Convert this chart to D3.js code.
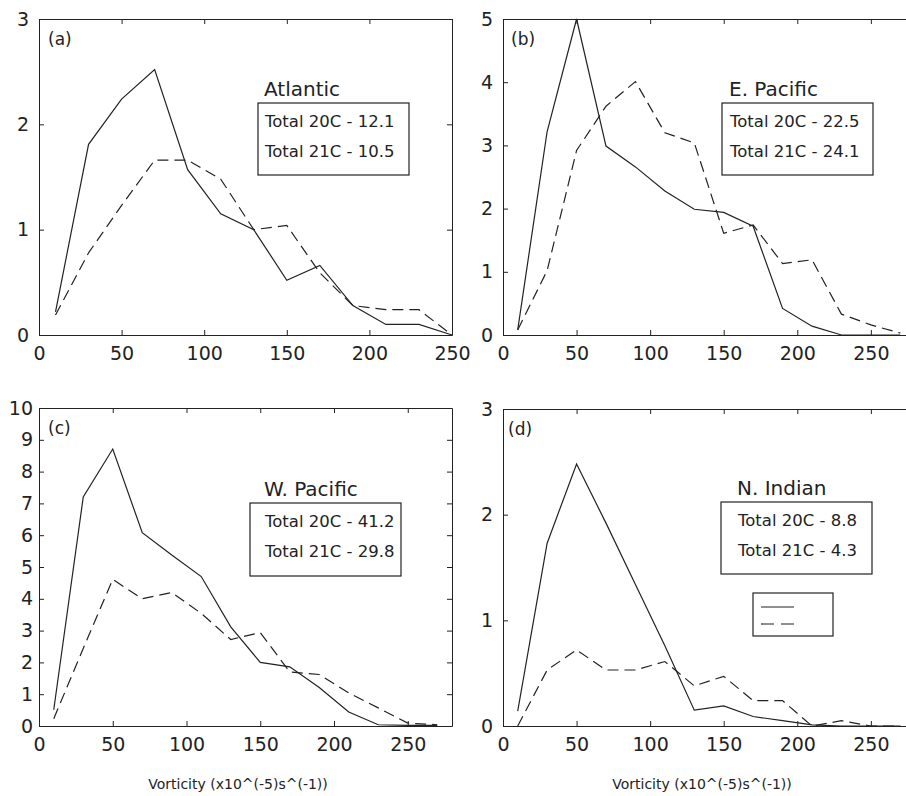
<!DOCTYPE html>
<html>
<head>
<meta charset="utf-8">
<script src="https://cdn.jsdelivr.net/npm/d3@7"></script>
<style>
  body { margin: 0; background: #fff; }
  svg { display: block; font-family: "DejaVu Sans", sans-serif; }
</style>
</head>
<body>
<svg id="chart" width="906" height="796"></svg>
<script>
// vorticity bin centres
const binsA = [10, 30, 50, 70, 90, 110, 130, 150, 170, 190, 210, 230, 250];
const bins = [10, 30, 50, 70, 90, 110, 130, 150, 170, 190, 210, 230, 250, 270];

// (a) Atlantic
const atl20 = [0.22, 1.81, 2.24, 2.52, 1.57, 1.15, 1.0, 0.52, 0.66, 0.28, 0.1, 0.1, 0];
const atl21 = [0.19, 0.78, 1.23, 1.66, 1.66, 1.48, 1.0, 1.04, 0.59, 0.28, 0.24, 0.24, 0];

// (b) E. Pacific
const epac20 = [0.08, 3.22, 5.0, 2.99, 2.66, 2.28, 1.99, 1.94, 1.72, 0.42, 0.14, 0, 0, 0];
const epac21 = [0.08, 1.02, 2.92, 3.62, 4.01, 3.2, 3.04, 1.61, 1.74, 1.13, 1.19, 0.33, 0.16, 0.03];

// (c) W. Pacific
const wpac20 = [0.51, 7.2, 8.71, 6.08, 5.38, 4.7, 3.12, 2.0, 1.86, 1.21, 0.44, 0.04, 0.02, 0.02];
const wpac21 = [0.23, 2.44, 4.61, 4.0, 4.2, 3.54, 2.72, 2.94, 1.7, 1.62, 1.04, 0.57, 0.09, 0.04];

// (d) N. Indian
const nind20 = [0.14, 1.73, 2.48, 1.92, 1.34, 0.76, 0.15, 0.19, 0.09, 0.05, 0.01, 0, 0, 0];
const nind21 = [0, 0.53, 0.72, 0.53, 0.53, 0.61, 0.38, 0.47, 0.24, 0.24, 0, 0.05, 0, 0];

const xTicks = [0, 50, 100, 150, 200, 250];
const xTitle = "Vorticity (x10^(-5)s^(-1))";

const panels = [
  { tag: "(a)", basin: "Atlantic", totals: ["Total 20C - 12.1", "Total 21C - 10.5"],
    x: binsA, s20: atl20, s21: atl21, xMax: 250, yMax: 3,
    left: 39, right: 452, top: 19, bottom: 335, yPad: 10,
    box: [258, 103, 151, 72], textX: 265, tagX: 48 },
  { tag: "(b)", basin: "E. Pacific", totals: ["Total 20C - 22.5", "Total 21C - 24.1"],
    x: bins, s20: epac20, s21: epac21, xMax: 280, yMax: 5,
    left: 503, right: 915, top: 19, bottom: 335, yPad: 10,
    box: [722, 103, 151, 72], textX: 730, tagX: 511 },
  { tag: "(c)", basin: "W. Pacific", totals: ["Total 20C - 41.2", "Total 21C - 29.8"],
    x: bins, s20: wpac20, s21: wpac21, xMax: 280, yMax: 10,
    left: 39, right: 452, top: 408, bottom: 726, yPad: 6,
    box: [250, 503, 151, 73], textX: 265, tagX: 48, xTitleX: 238 },
  { tag: "(d)", basin: "N. Indian", totals: ["Total 20C - 8.8", "Total 21C - 4.3"],
    x: bins, s20: nind20, s21: nind21, xMax: 280, yMax: 3,
    left: 503, right: 915, top: 409, bottom: 726, yPad: 10,
    box: [721, 502, 151, 72], textX: 738, tagX: 508, xTitleX: 702, legend: true }
];

const ink = "#222";
const svg = d3.select("#chart");

panels.forEach(p => {
  const x = d3.scaleLinear().domain([0, p.xMax]).range([p.left, p.right]);
  const y = d3.scaleLinear().domain([0, p.yMax]).range([p.bottom, p.top]);
  const yTicks = d3.range(0, p.yMax + 1);
  const g = svg.append("g");

  // inward ticks on all four sides, labels on bottom and left only
  const bottomAxis = d3.axisBottom(x).tickValues(xTicks).tickSizeInner(-5).tickSizeOuter(0).tickPadding(12).tickFormat(d3.format("d"));
  const topAxis = d3.axisTop(x).tickValues(xTicks).tickSizeInner(-5).tickSizeOuter(0).tickFormat("");
  const leftAxis = d3.axisLeft(y).tickValues(yTicks).tickSizeInner(-5).tickSizeOuter(0).tickPadding(p.yPad).tickFormat(d3.format("d"));
  const rightAxis = d3.axisRight(y).tickValues(yTicks).tickSizeInner(-5).tickSizeOuter(0).tickFormat("");

  [[bottomAxis, `translate(0,${p.bottom})`], [topAxis, `translate(0,${p.top})`],
   [leftAxis, `translate(${p.left},0)`], [rightAxis, `translate(${p.right},0)`]].forEach(([ax, tr]) => {
    const a = g.append("g").attr("transform", tr).call(ax);
    a.selectAll("path, line").attr("stroke", ink).attr("stroke-width", 1);
    a.selectAll("text").attr("fill", ink).style("font-size", "19px").style("font-family", "DejaVu Sans, sans-serif");
  });

  const line = d3.line().x((d, i) => x(p.x[i])).y(d => y(d));

  g.append("path").datum(p.s20)
    .attr("d", line).attr("fill", "none")
    .attr("stroke", ink).attr("stroke-width", 1.2);

  g.append("path").datum(p.s21)
    .attr("d", line).attr("fill", "none")
    .attr("stroke", ink).attr("stroke-width", 1.2)
    .attr("stroke-dasharray", "11,6");

  // panel tag
  g.append("text").attr("x", p.tagX).attr("y", p.top + 26)
    .attr("fill", ink).style("font-size", "17px").text(p.tag);

  // basin name + totals box
  const [bx, by, bw, bh] = p.box;
  g.append("text").attr("x", p.textX - 1).attr("y", by - 7)
    .attr("fill", ink).style("font-size", "20px").text(p.basin);
  g.append("rect").attr("x", bx).attr("y", by).attr("width", bw).attr("height", bh)
    .attr("fill", "#fff").attr("stroke", ink).attr("stroke-width", 1.2);
  p.totals.forEach((t, i) => {
    g.append("text").attr("x", p.textX).attr("y", by + 24 + i * 30)
      .attr("fill", ink).style("font-size", "16.5px").text(t);
  });

  if (p.legend) {
    g.append("rect").attr("x", 753).attr("y", 593).attr("width", 80).attr("height", 43)
      .attr("fill", "#fff").attr("stroke", ink).attr("stroke-width", 1.2);
    g.append("line").attr("x1", 761).attr("x2", 794).attr("y1", 607).attr("y2", 607)
      .attr("stroke", ink).attr("stroke-width", 1.2);
    g.append("line").attr("x1", 761).attr("x2", 794).attr("y1", 624).attr("y2", 624)
      .attr("stroke", ink).attr("stroke-width", 1.2).attr("stroke-dasharray", "13,7");
  }

  if (p.xTitleX) {
    g.append("text").attr("x", p.xTitleX).attr("y", 789)
      .attr("text-anchor", "middle").attr("fill", ink)
      .style("font-size", "14px").text(xTitle);
  }
});
</script>
</body>
</html>
